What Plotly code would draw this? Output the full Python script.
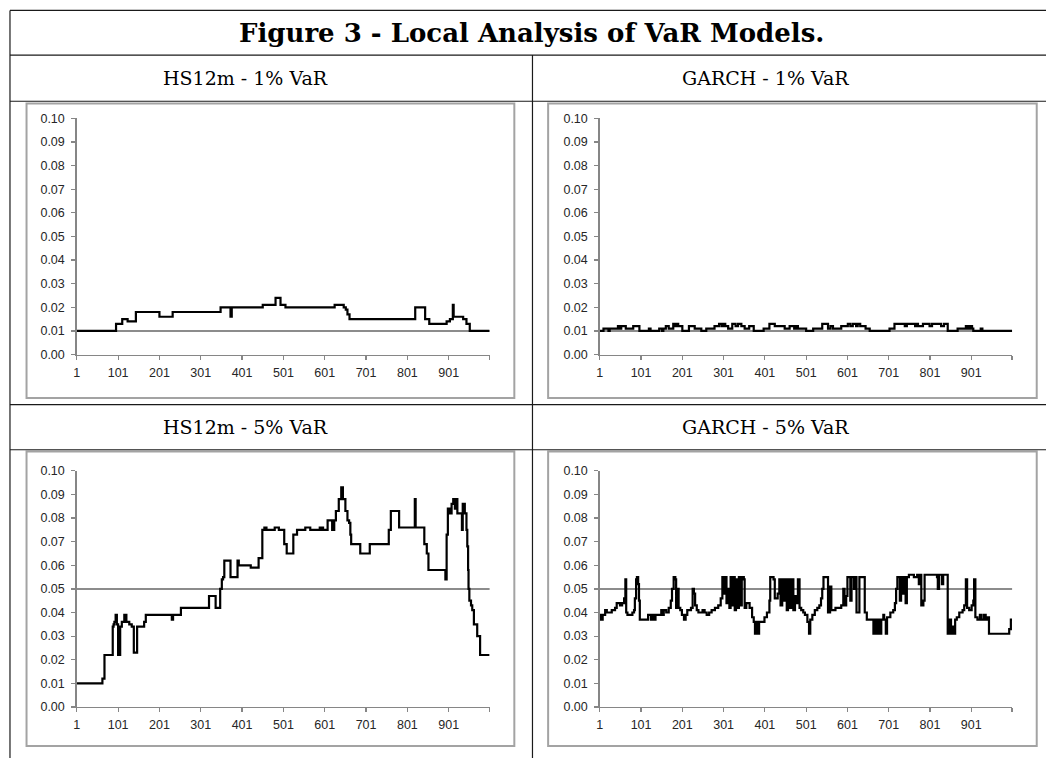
import plotly.graph_objects as go

W, H = 1046, 765

# ---------------- data ----------------
# Each series is stored as step breakpoints: observation index -> failure rate
hs1_x = [1, 96, 111, 124, 144, 201, 233, 349, 373, 376, 451, 482, 494, 506, 625, 647, 652, 656, 661,
         820, 844, 854, 896, 904, 911, 913, 936, 944, 952, 1000]
hs1_y = [0.010, 0.013, 0.015, 0.014, 0.018, 0.016, 0.018, 0.020, 0.016, 0.020, 0.021, 0.024, 0.021, 0.020, 0.021,
         0.020, 0.019, 0.017, 0.015, 0.020, 0.015, 0.013, 0.014, 0.015, 0.021, 0.016, 0.015, 0.013, 0.010, 0.010]

g1_x = [1, 10, 22, 25, 45, 49, 53, 64, 82, 97, 120, 124, 145, 152, 155, 161, 168, 179, 184, 188, 191, 201, 217,
        231, 247, 259, 279, 290, 296, 300, 305, 312, 322, 330, 336, 344, 352, 363, 374, 398, 412, 425, 449, 461,
        472, 476, 481, 501, 518, 540, 554, 560, 566, 586, 602, 608, 614, 622, 626, 632, 645, 655, 703, 715, 740,
        745, 765, 768, 772, 784, 800, 806, 828, 835, 844, 868, 888, 893, 898, 903, 906, 924, 928, 1000]
g1_y = [0.010, 0.011, 0.010, 0.011, 0.012, 0.011, 0.012, 0.011, 0.012, 0.010, 0.011, 0.010, 0.011, 0.010, 0.011,
        0.012, 0.011, 0.013, 0.012, 0.013, 0.012, 0.010, 0.012, 0.011, 0.010, 0.011, 0.012, 0.013, 0.012, 0.013,
        0.012, 0.011, 0.013, 0.012, 0.013, 0.012, 0.011, 0.012, 0.010, 0.011, 0.013, 0.012, 0.011, 0.012, 0.011,
        0.012, 0.011, 0.010, 0.011, 0.013, 0.011, 0.012, 0.011, 0.012, 0.013, 0.012, 0.013, 0.012, 0.013, 0.012,
        0.011, 0.010, 0.011, 0.013, 0.012, 0.013, 0.012, 0.013, 0.012, 0.013, 0.012, 0.013, 0.012, 0.013, 0.010,
        0.011, 0.012, 0.011, 0.012, 0.011, 0.010, 0.011, 0.010, 0.010]

hs5_x = [1, 63, 68, 88, 90, 92, 95, 98, 101, 106, 110, 116, 121, 128, 134, 139, 147, 164, 168, 231, 234, 253,
         321, 337, 348, 352, 355, 358, 373, 390, 393, 422, 441, 450, 455, 460, 480, 490, 503, 509, 525, 534, 554,
         566, 589, 591, 595, 597, 608, 619, 624, 628, 635, 641, 645, 651, 656, 660, 663, 665, 687, 710, 756, 761,
         781, 819, 821, 842, 848, 852, 893, 896, 899, 904, 908, 912, 916, 919, 922, 933, 935, 940, 944, 946, 948,
         949, 951, 955, 958, 962, 970, 977, 1000]
hs5_y = [0.010, 0.012, 0.022, 0.034, 0.035, 0.036, 0.039, 0.035, 0.022, 0.034, 0.036, 0.039, 0.036, 0.035, 0.034,
         0.023, 0.034, 0.036, 0.039, 0.037, 0.039, 0.042, 0.047, 0.042, 0.050, 0.054, 0.055, 0.062, 0.055, 0.062,
         0.060, 0.059, 0.063, 0.075, 0.076, 0.075, 0.076, 0.075, 0.069, 0.065, 0.073, 0.075, 0.076, 0.075, 0.076,
         0.075, 0.076, 0.075, 0.079, 0.075, 0.079, 0.083, 0.088, 0.093, 0.088, 0.083, 0.079, 0.078, 0.073, 0.069,
         0.065, 0.069, 0.075, 0.083, 0.076, 0.088, 0.076, 0.069, 0.065, 0.058, 0.054, 0.073, 0.084, 0.082, 0.086,
         0.088, 0.084, 0.088, 0.082, 0.075, 0.086, 0.082, 0.075, 0.068, 0.058, 0.050, 0.045, 0.043, 0.041, 0.035,
         0.030, 0.022, 0.022]

g5_x = [1, 3, 8, 14, 18, 30, 38, 42, 50, 55, 60, 63, 65, 68, 80, 84, 86, 89, 91, 94, 96, 98, 118, 125, 128, 133,
        136, 150, 153, 156, 162, 168, 173, 176, 180, 184, 186, 189, 192, 196, 200, 205, 209, 213, 222, 226, 229,
        232, 236, 240, 250, 255, 260, 266, 272, 280, 288, 294, 298, 302, 305, 308, 312, 315, 318, 321, 325, 328,
        331, 334, 338, 341, 345, 350, 352, 356, 364, 370, 374, 377, 381, 384, 387, 400, 406, 412, 414, 422, 425,
        432, 436, 439, 443, 446, 450, 454, 457, 462, 466, 470, 474, 478, 481, 485, 489, 494, 498, 504, 508, 511,
        516, 522, 528, 533, 537, 540, 543, 554, 559, 562, 572, 582, 586, 591, 594, 598, 601, 608, 611, 617, 620,
        623, 630, 643, 648, 664, 667, 672, 675, 680, 683, 688, 690, 694, 697, 705, 712, 716, 719, 722, 728, 731,
        735, 738, 742, 745, 750, 762, 770, 774, 777, 780, 785, 788, 818, 820, 823, 830, 833, 844, 849, 852, 856,
        859, 862, 866, 872, 880, 884, 888, 891, 896, 902, 906, 908, 911, 916, 922, 926, 932, 936, 940, 944, 993,
        997, 1000]
g5_y = [0.039, 0.037, 0.039, 0.041, 0.040, 0.041, 0.042, 0.044, 0.043, 0.044, 0.046, 0.054, 0.040, 0.039, 0.040,
        0.041, 0.046, 0.054, 0.055, 0.052, 0.045, 0.037, 0.039, 0.037, 0.039, 0.037, 0.039, 0.041, 0.039, 0.041,
        0.040, 0.042, 0.045, 0.050, 0.055, 0.054, 0.042, 0.050, 0.042, 0.041, 0.039, 0.037, 0.039, 0.041, 0.042,
        0.050, 0.048, 0.043, 0.041, 0.040, 0.041, 0.040, 0.039, 0.040, 0.041, 0.042, 0.043, 0.046, 0.055, 0.048,
        0.055, 0.044, 0.050, 0.042, 0.055, 0.043, 0.055, 0.041, 0.054, 0.042, 0.055, 0.043, 0.055, 0.054, 0.042,
        0.044, 0.042, 0.038, 0.036, 0.031, 0.036, 0.031, 0.036, 0.038, 0.040, 0.045, 0.055, 0.054, 0.046, 0.048,
        0.054, 0.043, 0.054, 0.045, 0.054, 0.041, 0.054, 0.042, 0.054, 0.041, 0.047, 0.044, 0.054, 0.042, 0.041,
        0.040, 0.039, 0.036, 0.031, 0.037, 0.039, 0.041, 0.042, 0.043, 0.046, 0.050, 0.055, 0.040, 0.051, 0.041,
        0.042, 0.042, 0.043, 0.050, 0.043, 0.047, 0.055, 0.045, 0.055, 0.050, 0.055, 0.040, 0.055, 0.040, 0.037,
        0.031, 0.037, 0.031, 0.037, 0.031, 0.037, 0.039, 0.037, 0.031, 0.038, 0.040, 0.041, 0.044, 0.050, 0.055,
        0.045, 0.055, 0.048, 0.055, 0.044, 0.055, 0.056, 0.055, 0.056, 0.052, 0.056, 0.043, 0.045, 0.056, 0.055,
        0.050, 0.056, 0.052, 0.056, 0.031, 0.037, 0.031, 0.034, 0.031, 0.037, 0.038, 0.040, 0.041, 0.043, 0.054,
        0.042, 0.041, 0.043, 0.045, 0.054, 0.038, 0.037, 0.039, 0.037, 0.039, 0.037, 0.038, 0.031, 0.033, 0.037,
        0.037]

panel_titles = ["HS12m - 1% VaR", "GARCH - 1% VaR", "HS12m - 5% VaR", "GARCH - 5% VaR"]
target_levels = [0.01, 0.01, 0.05, 0.05]
main_title = "Figure 3 - Local Analysis of VaR Models."
x_tick_vals = [1, 101, 201, 301, 401, 501, 601, 701, 801, 901, 1000]
x_tick_text = ["1", "101", "201", "301", "401", "501", "601", "701", "801", "901", ""]
y_tick_vals = [0.00, 0.01, 0.02, 0.03, 0.04, 0.05, 0.06, 0.07, 0.08, 0.09, 0.10]

series = [(hs1_x, hs1_y), (g1_x, g1_y), (hs5_x, hs5_y), (g5_x, g5_y)]

# ---------------- layout helpers (pixel -> paper) ----------------
def px(x):
    return x / W

def py(y):
    return 1 - y / H

# plot areas in pixels: (left, right, top, bottom)
areas = [
    (74.0, 488.0, 113.5, 354.0),
    (598.5, 1012.0, 113.5, 354.0),
    (74.0, 488.0, 472.5, 713.0),
    (598.5, 1012.0, 472.5, 713.0),
]
boxes = [
    (23.6, 512.8, 98.3, 398.3),
    (546.7, 1036.7, 98.3, 398.3),
    (23.6, 512.8, 452.8, 752.8),
    (546.7, 1036.7, 452.8, 752.8),
]

AXIS_GRAY = "#868686"
LINE_GRAY = "#8c8c8c"
TICK_FONT = dict(family="Liberation Sans, Arial, sans-serif", size=12.5, color="#262626")

fig = go.Figure()
layout = dict(
    width=W, height=H,
    margin=dict(l=0, r=0, t=0, b=0),
    paper_bgcolor="white", plot_bgcolor="white",
    showlegend=False,
)

shapes = []
annotations = []

for i, ((sx, sy), (l, r, t, b), lvl) in enumerate(zip(series, areas, target_levels)):
    n = "" if i == 0 else str(i + 1)
    xa, ya = "x" + n, "y" + n
    layout["xaxis" + n] = dict(
        domain=[px(l), px(r)], anchor=ya, range=[1, 1000],
        tickmode="array", tickvals=x_tick_vals, ticktext=x_tick_text,
        ticks="outside", ticklen=4, tickwidth=1.2, tickcolor=AXIS_GRAY,
        showline=True, linecolor=AXIS_GRAY, linewidth=1.5,
        showgrid=False, zeroline=False, tickfont=TICK_FONT, tickangle=0,
        ticklabelstandoff=2,
    )
    layout["yaxis" + n] = dict(
        domain=[py(b), py(t)], anchor=xa, range=[0, 0.10],
        tickmode="array", tickvals=y_tick_vals, tickformat=".2f",
        ticks="outside", ticklen=4, tickwidth=1.2, tickcolor=AXIS_GRAY,
        showline=True, linecolor=AXIS_GRAY, linewidth=1.5,
        showgrid=False, zeroline=False, tickfont=TICK_FONT,
        ticklabelstandoff=4,
    )
    # target level line
    shapes.append(dict(type="line", xref=xa + " domain", yref=ya, x0=0, x1=1, y0=lvl, y1=lvl,
                       line=dict(color=LINE_GRAY, width=2), layer="below"))
    fig.add_trace(go.Scatter(x=sx, y=sy, xaxis=xa, yaxis=ya, mode="lines", line_shape="hv",
                             line=dict(color="black", width=2.2), hoverinfo="skip"))

# chart frames
for (l, r, t, b) in boxes:
    shapes.append(dict(type="rect", xref="paper", yref="paper", x0=px(l), x1=px(r), y0=py(b), y1=py(t),
                       line=dict(color="#a3a3a3", width=2), layer="below"))

# table rules
TBL = dict(color="#1a1a1a", width=1.2)
for yy in [3.5, 49.0, 96.0, 405.0, 451.0]:
    shapes.append(dict(type="line", xref="paper", yref="paper", x0=px(7), x1=1, y0=py(yy), y1=py(yy), line=TBL))
shapes.append(dict(type="line", xref="paper", yref="paper", x0=px(7), x1=px(7), y0=py(3.5), y1=0, line=TBL))
shapes.append(dict(type="line", xref="paper", yref="paper", x0=px(531), x1=px(531), y0=py(49), y1=0, line=TBL))

# texts
annotations.append(dict(text="<b>" + main_title + "</b>", xref="paper", yref="paper", x=px(530), y=py(26),
                        showarrow=False, xanchor="center", yanchor="middle",
                        font=dict(family="DejaVu Serif, serif", size=26, color="black")))
head_pos = [(243, 72.5), (765, 72.5), (243, 428.0), (765, 428.0)]
for txt, (hx, hy) in zip(panel_titles, head_pos):
    annotations.append(dict(text=txt, xref="paper", yref="paper", x=px(hx), y=py(hy), showarrow=False,
                            xanchor="center", yanchor="middle",
                            font=dict(family="DejaVu Serif, serif", size=19, color="black")))

layout["shapes"] = shapes
layout["annotations"] = annotations
fig.update_layout(**layout)
fig.write_html(
    "out.html",
    config={"displayModeBar": False, "staticPlot": True},
    post_script="document.body.style.margin='0';document.body.style.overflow='hidden';",
)
